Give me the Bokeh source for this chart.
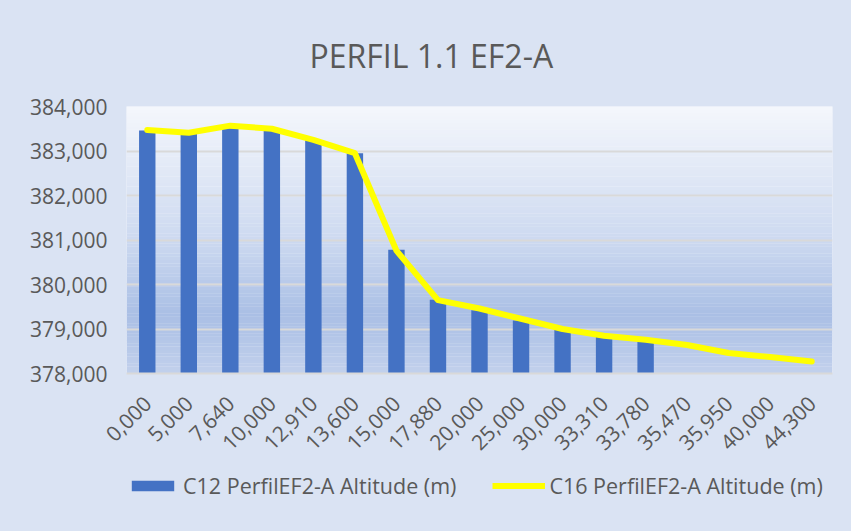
import math
from bokeh.plotting import figure
from bokeh.layouts import column
from bokeh.models import (ColumnDataSource, FactorRange, Range1d, FixedTicker,
                          NumeralTickFormatter, Legend, LegendItem, BoxAnnotation, Title)
from bokeh.embed import file_html
from bokeh.resources import INLINE

# ---- data -------------------------------------------------------------
distances = ["0,000", "5,000", "7,640", "10,000", "12,910", "13,600", "15,000",
             "17,880", "20,000", "25,000", "30,000", "33,310", "33,780",
             "35,470", "35,950", "40,000", "44,300"]
c12_altitude = [383460, 383390, 383510, 383460, 383240, 382950, 380780,
                379660, 379420, 379190, 378980, 378820, 378730,
                float("nan"), float("nan"), float("nan"), float("nan")]
c16_altitude = [383470, 383410, 383570, 383500, 383250, 382950, 380760,
                379650, 379460, 379230, 379000, 378850, 378760,
                378640, 378460, 378370, 378270]
y_ticks = [378000, 379000, 380000, 381000, 382000, 383000, 384000]
series_names = ["C12 PerfilEF2-A Altitude (m)", "C16 PerfilEF2-A Altitude (m)"]
title_text = "PERFIL 1.1 EF2-A"

# ---- styles -----------------------------------------------------------
FONT = "Open Sans"
TXT = "#595959"
BG = "#DAE3F3"
BAR = "#4472C4"
LINE = "#FFFF00"
GRID = "#D9D9D9"

ymin, ymax = y_ticks[0], y_ticks[-1]
src = ColumnDataSource(dict(x=distances, c12=c12_altitude, c16=c16_altitude,
                            base=[ymin] * len(distances)))

p = figure(frame_width=706, frame_height=267, output_backend="svg",
           toolbar_location=None,
           x_range=FactorRange(*distances), y_range=Range1d(ymin, ymax),
           min_border_left=126, min_border_right=19, min_border_top=106,
           min_border_bottom=93)
p.border_fill_color = BG
p.background_fill_color = "#F4F6FB"
p.outline_line_color = None

# gradient plot-area fill (decorative, screen styling)
stops = [(0.0, (0xC2, 0xD1, 0xEC)), (0.22, (0xAA, 0xBF, 0xE5)),
         (0.5, (0xCC, 0xD9, 0xF0)), (1.0, (0xF5, 0xF7, 0xFC))]
n = 80
for i in range(n):
    f = (i + 0.5) / n
    for j in range(len(stops) - 1):
        if stops[j][0] <= f <= stops[j + 1][0]:
            a, ca = stops[j]
            b, cb = stops[j + 1]
            t = (f - a) / (b - a)
            col = tuple(int(round(ca[k] + (cb[k] - ca[k]) * t)) for k in range(3))
            break
    lo = ymin + (ymax - ymin) * i / n
    hi = ymin + (ymax - ymin) * (i + 1.05) / n
    p.add_layout(BoxAnnotation(bottom=lo, top=hi, fill_color="#%02X%02X%02X" % col,
                               fill_alpha=1.0, line_color=None, level="image"))

bars = p.vbar(x="x", top="c12", bottom="base", width=0.395, source=src,
              fill_color=BAR, line_color=None)
line = p.line(x="x", y="c16", source=src, line_color=LINE, line_width=6,
              line_cap="round", line_join="round")

# axes
p.yaxis.ticker = FixedTicker(ticks=y_ticks)
p.yaxis.formatter = NumeralTickFormatter(format="0,0")
p.yaxis.axis_line_color = None
p.yaxis.major_tick_line_color = None
p.yaxis.minor_tick_line_color = None
p.yaxis.major_label_standoff = 13
p.yaxis.major_label_text_font = FONT
p.yaxis.major_label_text_font_size = "21px"
p.yaxis.major_label_text_color = TXT

p.xaxis.axis_line_color = GRID
p.xaxis.axis_line_width = 2
p.xaxis.major_tick_line_color = None
p.xaxis.minor_tick_line_color = None
p.xaxis.major_label_orientation = math.pi / 4
p.xaxis.major_label_standoff = 20
p.xaxis.major_label_text_font = FONT
p.xaxis.major_label_text_font_size = "21px"
p.xaxis.major_label_text_color = TXT

p.xgrid.grid_line_color = None
p.ygrid.ticker = FixedTicker(ticks=y_ticks)
p.ygrid.grid_line_color = GRID
p.ygrid.grid_line_width = 2

# title
p.add_layout(Title(text=title_text, text_font=FONT, text_font_size="32px",
                   text_font_style="normal", text_color=TXT, align="left",
                   offset=183, standoff=60), "above")

# ---- legend strip (separate figure below the chart) -------------------
# same series drawn far out of view, only to feed the legend swatches
pleg = figure(frame_width=706, height=65, output_backend="svg",
              toolbar_location=None, x_axis_type=None, y_axis_type=None,
              x_range=FactorRange(*distances), y_range=Range1d(1e7, 1e7 + 1),
              min_border_left=126, min_border_right=19,
              min_border_top=0, min_border_bottom=0)
pleg.border_fill_color = BG
pleg.background_fill_alpha = 0
pleg.outline_line_color = None
pleg.grid.visible = False
leg_bar = pleg.vbar(x="x", top="c12", bottom="base", width=0.395, source=src,
                    fill_color=BAR, line_color=None)
leg_line = pleg.line(x="x", y="c16", source=src, line_color=LINE, line_width=6)

legend = Legend(items=[LegendItem(label=series_names[0], renderers=[leg_bar]),
                       LegendItem(label=series_names[1], renderers=[leg_line])],
                orientation="horizontal", location=(0, 31),
                label_text_font=FONT, label_text_font_size="21.5px",
                label_text_color=TXT, glyph_width=53, glyph_height=13,
                label_standoff=4, spacing=36, padding=0, margin=0,
                background_fill_alpha=0, border_line_color=None)
pleg.add_layout(legend, "center")

layout = column(p, pleg, spacing=0, styles={"background-color": BG})
open("out.html", "w").write(file_html(layout, INLINE))
